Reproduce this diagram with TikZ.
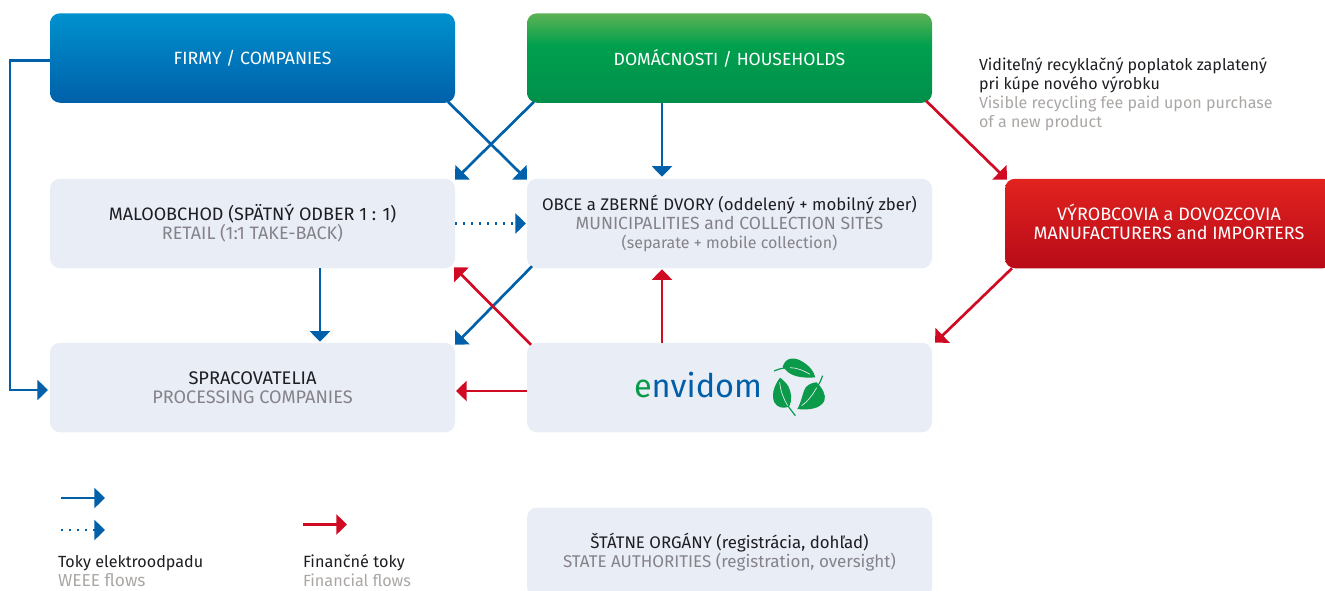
\documentclass[tikz,border=0pt]{standalone}
\usepackage{fontspec}
\setmainfont{Fira Sans}
\usetikzlibrary{arrows.meta,calc}
\definecolor{bluel}{HTML}{0060A9}
\definecolor{flowblue}{HTML}{0060A9}
\definecolor{flowred}{HTML}{CF0A22}
\definecolor{boxfill}{HTML}{E9EDF6}
\definecolor{inkdark}{HTML}{1D1D22}
\definecolor{inkgray}{HTML}{85828A}
\definecolor{inklight}{HTML}{AAA6A4}
\definecolor{leafgreen}{HTML}{0A9A4A}
\definecolor{logoblue}{HTML}{005FA8}
\definecolor{blueT}{HTML}{0091CE}
\definecolor{greenB}{HTML}{008F4B}
\definecolor{greenM}{HTML}{00A04E}
\definecolor{greenT}{HTML}{5DB153}
\definecolor{redT}{HTML}{E2231F}
\definecolor{redB}{HTML}{B70B18}
\pgfdeclareverticalshading{blueshade}{100bp}{color(0bp)=(bluel); color(25bp)=(bluel); color(75bp)=(blueT); color(100bp)=(blueT)}
\pgfdeclareverticalshading{greenshade}{100bp}{color(0bp)=(greenB); color(25bp)=(greenB); color(57bp)=(greenM); color(75bp)=(greenT); color(100bp)=(greenT)}
\pgfdeclareverticalshading{redshade}{100bp}{color(0bp)=(redB); color(25bp)=(redB); color(75bp)=(redT); color(100bp)=(redT)}
\def\pxu{0.75pt}
\newcommand\fz[1]{\fontsize{#1}{14.25}\selectfont}
\tikzset{
  basebox/.style={rounded corners=7.5pt,minimum width=405*\pxu,minimum height=89.5*\pxu,inner sep=0pt,outer sep=0pt,align=center,font=\fz{13}},
  lightbox/.style={basebox,fill=boxfill,text=inkdark},
  headbox/.style={basebox,text=white},
  wflow/.style={draw=flowblue,line width=2pt,-{Triangle[length=8pt,width=15pt]}},
  fflow/.style={draw=flowred,line width=2pt,-{Triangle[length=8pt,width=15pt]}},
  dotflow/.style={wflow,dash pattern=on 1.8pt off 4.2pt},
  freetext/.style={inner sep=0pt,outer sep=0pt,anchor=west,align=left,font=\fz{12.05},text=inkdark},
  leaf/.style={fill=leafgreen,draw=none},
  vein/.style={draw=boxfill,line width=0.5pt,fill=none},
  stem/.style={draw=leafgreen,line width=0.9pt,fill=none}
}
\begin{document}
\begin{tikzpicture}[x=0.75pt,y=-0.75pt]
\path[use as bounding box,clip] (0,0) rectangle (1325,590);
% boxes
\node[headbox,shading=blueshade] (firmy) at (252.5,58) {\fz{13.3}FIRMY / COMPANIES};
\node[headbox,shading=greenshade] (dom) at (729.5,58) {\fz{13.2}DOMÁCNOSTI / HOUSEHOLDS};
\node[lightbox] (malo) at (252.5,223.5) {\fz{13.5}MALOOBCHOD (SPÄTNÝ ODBER 1 : 1)\\\fz{13.5}\textcolor{inkgray}{RETAIL (1:1 TAKE-BACK)}};
\node[lightbox] (obce) at (729.5,223.5) {\fz{12.6}OBCE a ZBERNÉ DVORY (oddelený + mobilný zber)\\\fz{13.2}\textcolor{inkgray}{MUNICIPALITIES and COLLECTION SITES}\\\fz{12}\textcolor{inkgray}{(separate + mobile collection)}};
\node[headbox,shading=redshade,minimum width=328*\pxu] (vyrob) at (1169,223.5) {\fz{13.5}VÝROBCOVIA a DOVOZCOVIA\\\fz{13.45}MANUFACTURERS and IMPORTERS\rule[-3pt]{0pt}{3pt}};
\node[lightbox] (sprac) at (252.5,387.5) {\fz{13.7}SPRACOVATELIA\\\fz{13.6}\textcolor{inkgray}{PROCESSING COMPANIES}};
\node[lightbox] (envi) at (729.5,387.5) {};
\node[lightbox] (state) at (729.5,552.3) {\fz{12.6}ŠTÁTNE ORGÁNY (registrácia, dohľad)\\\fz{12.75}\textcolor{inkgray}{STATE AUTHORITIES (registration, oversight)}};
% logo
\node[inner sep=0pt,outer sep=0pt,anchor=base west,font=\fontsize{24.4}{25}\selectfont] (logo) at (634,397.5) {\textcolor{leafgreen}{e}\textcolor{logoblue}{nvidom}};
\begin{scope}[shift={(620,345)},x=0.25pt,y=-0.25pt]
  \path[leaf] (488,66) .. controls (495,38) and (520,36) .. (540,46) .. controls (568,60) and (582,80) .. (586,97) .. controls (555,100) and (522,96) .. (505,82) -- cycle;
  \draw[stem] (462,78) .. controls (480,70) and (500,66) .. (520,68);
  \draw[vein] (510,68) .. controls (530,68) and (550,76) .. (570,88);
  \path[leaf] (480,98) .. controls (460,125) and (454,152) .. (463,172) .. controls (472,188) and (490,192) .. (507,185) .. controls (518,165) and (514,140) .. (504,122) .. controls (497,112) and (488,104) .. (480,98) -- cycle;
  \draw[vein] (479,112) .. controls (482,140) and (490,160) .. (503,182);
  \draw[stem] (503,182) -- (526,212);
  \path[leaf] (532,192) .. controls (545,170) and (548,140) .. (558,126) .. controls (568,116) and (582,112) .. (590,112) .. controls (606,128) and (620,150) .. (613,168) .. controls (600,192) and (565,196) .. (532,192) -- cycle;
  \draw[stem] (608,92) .. controls (602,108) and (596,120) .. (590,128);
  \draw[vein] (590,128) .. controls (578,150) and (562,170) .. (545,182);
\end{scope}
% side text
\node[freetext] (feeSk) at (979,75) {Viditeľný recyklačný poplatok zaplatený\\pri kúpe nového výrobku};
\node[freetext,text=inklight] (feeEn) at (979,113) {Visible recycling fee paid upon purchase\\of a new product};
% connectors
\coordinate (rail) at (10,0);
\draw[wflow] ($(firmy.west)+(0,2.5)$) -- (rail |- {$(firmy.west)+(0,2.5)$}) -- (rail |- {$(sprac.west)+(0,2.5)$}) -- ($(sprac.west)+(-2,2.5)$);
\draw[wflow] ($(firmy.south east)+(-7,-1)$) -- ($(obce.north west)+(0,1)$);
\draw[wflow] ($(dom.south west)+(7,-1)$) -- ($(malo.north east)+(0,1)$);
\draw[wflow] (dom.south -| 662,0) -- ($(obce.north -| 662,0)+(0,-2)$);
\draw[dotflow] (malo.east) -- ($(obce.west)+(-1,0)$);
\draw[wflow] (malo.south -| 320,0) -- ($(sprac.north -| 320,0)+(0,-1)$);
\draw[wflow] ($(obce.south west)+(5,-2)$) -- ($(sprac.north east)+(0,2)$);
\draw[fflow] ($(dom.south east)+(-6,-2)$) -- ($(vyrob.north west)+(2,1)$);
\draw[fflow] ($(vyrob.south west)+(7,0)$) -- ($(envi.north east)+(3,0)$);
\draw[fflow] ($(envi.north west)+(4,2)$) -- ($(malo.south east)+(-1,-1)$);
\draw[fflow] (envi.north -| 662,0) -- ($(obce.south -| 662,0)+(0,1)$);
\draw[fflow] ($(envi.west)+(0,3.5)$) -- ($(sprac.east)+(1,3.5)$);
% legend
\coordinate (lgA) at (61,498); \coordinate (lgAe) at (105,498);
\coordinate (lgB) at (61,530); \coordinate (lgBe) at (105,530);
\coordinate (lgC) at (303,524.5); \coordinate (lgCe) at (347,524.5);
\draw[wflow] (lgA) -- (lgAe);
\draw[dotflow] (lgB) -- (lgBe);
\draw[fflow] (lgC) -- (lgCe);
\node[freetext] (lgTa) at (58,571) {\fz{12.1}Toky elektroodpadu\\\fz{13}\textcolor{inklight}{WEEE flows}};
\node[freetext] (lgTb) at (303,571) {\fz{12.2}Finančné toky\\\fz{12.15}\textcolor{inklight}{Financial flows}};
\end{tikzpicture}
\end{document}
